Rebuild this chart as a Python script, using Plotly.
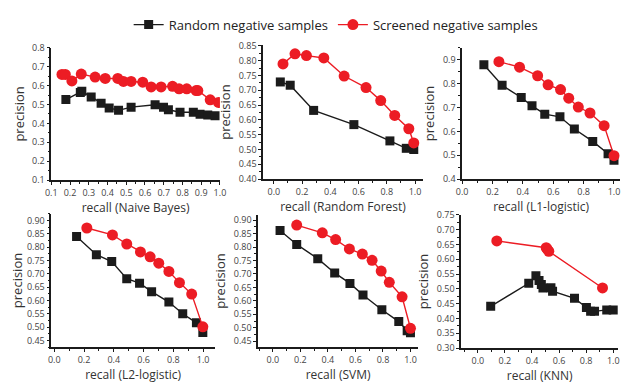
import plotly.graph_objects as go

# ---------------- data ----------------
nb_rand_x = [0.178, 0.255, 0.263, 0.313, 0.366, 0.409, 0.459, 0.526, 0.654, 0.699, 0.725, 0.787, 0.858, 0.894, 0.935, 0.974]
nb_rand_y = [0.526, 0.563, 0.570, 0.540, 0.506, 0.482, 0.469, 0.486, 0.499, 0.486, 0.472, 0.459, 0.459, 0.448, 0.445, 0.440]
nb_scr_x = [0.157, 0.175, 0.210, 0.260, 0.334, 0.388, 0.455, 0.485, 0.526, 0.588, 0.633, 0.686, 0.747, 0.782, 0.823, 0.873, 0.882, 0.948, 0.992]
nb_scr_y = [0.659, 0.659, 0.625, 0.661, 0.645, 0.638, 0.638, 0.622, 0.622, 0.618, 0.593, 0.593, 0.596, 0.583, 0.583, 0.574, 0.574, 0.525, 0.511]

rf_rand_x = [0.046, 0.116, 0.282, 0.567, 0.822, 0.938, 0.991]
rf_rand_y = [0.728, 0.717, 0.632, 0.584, 0.529, 0.504, 0.500]
rf_scr_x = [0.065, 0.150, 0.231, 0.354, 0.498, 0.653, 0.757, 0.856, 0.956, 0.991]
rf_scr_y = [0.789, 0.823, 0.817, 0.809, 0.748, 0.709, 0.665, 0.615, 0.570, 0.522]

l1_rand_x = [0.143, 0.263, 0.389, 0.460, 0.544, 0.644, 0.739, 0.860, 0.961, 1.000]
l1_rand_y = [0.879, 0.793, 0.742, 0.707, 0.672, 0.661, 0.610, 0.558, 0.506, 0.479]
l1_scr_x = [0.242, 0.378, 0.497, 0.566, 0.648, 0.702, 0.765, 0.842, 0.935, 1.000]
l1_scr_y = [0.892, 0.869, 0.833, 0.795, 0.775, 0.739, 0.702, 0.677, 0.624, 0.498]

l2_rand_x = [0.150, 0.283, 0.386, 0.487, 0.573, 0.654, 0.770, 0.863, 0.955, 0.998]
l2_rand_y = [0.840, 0.772, 0.746, 0.682, 0.665, 0.633, 0.594, 0.550, 0.516, 0.480]
l2_scr_x = [0.219, 0.391, 0.487, 0.579, 0.644, 0.702, 0.770, 0.841, 0.923, 0.998]
l2_scr_y = [0.872, 0.846, 0.812, 0.782, 0.764, 0.740, 0.709, 0.667, 0.624, 0.501]

svm_rand_x = [0.052, 0.173, 0.326, 0.449, 0.560, 0.655, 0.792, 0.915, 0.976, 1.000]
svm_rand_y = [0.862, 0.810, 0.757, 0.704, 0.665, 0.622, 0.567, 0.523, 0.489, 0.481]
svm_scr_x = [0.173, 0.359, 0.456, 0.556, 0.650, 0.721, 0.787, 0.846, 0.939, 1.000]
svm_scr_y = [0.882, 0.853, 0.828, 0.793, 0.774, 0.751, 0.711, 0.669, 0.615, 0.498]

knn_rand_x = [0.095, 0.376, 0.429, 0.452, 0.469, 0.481, 0.540, 0.552, 0.714, 0.802, 0.833, 0.862, 0.952, 1.000]
knn_rand_y = [0.441, 0.519, 0.544, 0.528, 0.515, 0.503, 0.504, 0.492, 0.468, 0.437, 0.424, 0.424, 0.429, 0.429]
knn_scr_x = [0.140, 0.505, 0.512, 0.524, 0.921]
knn_scr_y = [0.662, 0.639, 0.634, 0.627, 0.503]

series_names = ["Random negative samples", "Screened negative samples"]
axis_titles = ["recall (Naive Bayes)", "recall (Random Forest)", "recall (L1-logistic)",
               "recall (L2-logistic)", "recall (SVM)", "recall (KNN)"]

# ---------------- layout helpers ----------------
# page body has an 8px margin, so the figure is drawn from (8, 8)
OFF = 8
W, H = 621, 376
BLACK = "#1b1b1b"
RED = "#ec1c24"


def fx(px):
    return (px - OFF) / W


def fy(py):
    return 1 - (py - OFF) / H


panels = [
    # data, x px, y px (top,bottom), xrange, yrange, xdtick, ydtick, yfmt
    ((nb_rand_x, nb_rand_y, nb_scr_x, nb_scr_y), (46, 218), (42, 179), [0.1, 1.0], [0.1, 0.8], 0.1, 0.1, ".1f"),
    ((rf_rand_x, rf_rand_y, rf_scr_x, rf_scr_y), (262, 425), (39, 178), [-0.076, 1.056], [0.40, 0.853], 0.2, 0.05, ".2f"),
    ((l1_rand_x, l1_rand_y, l1_scr_x, l1_scr_y), (465, 626), (42, 178), [0.0, 1.04], [0.4, 0.95], 0.2, 0.1, ".1f"),
    ((l2_rand_x, l2_rand_y, l2_scr_x, l2_scr_y), (46, 213), (214, 352), [-0.02, 1.08], [0.425, 0.925], 0.2, 0.05, ".2f"),
    ((svm_rand_x, svm_rand_y, svm_scr_x, svm_scr_y), (257, 420), (215, 352), [-0.107, 1.055], [0.428, 0.92], 0.2, 0.05, ".2f"),
    ((knn_rand_x, knn_rand_y, knn_scr_x, knn_scr_y), (464, 624), (215, 353), [-0.123, 1.036], [0.30, 0.75], 0.2, 0.05, ".2f"),
]

fig = go.Figure()
layout = {}
for i, (d, xpx, ypx, xr, yr, xdt, ydt, yfmt) in enumerate(panels):
    n = "" if i == 0 else str(i + 1)
    xa, ya = "x" + n, "y" + n
    rx, ry, sx, sy = d
    fig.add_trace(go.Scatter(x=rx, y=ry, xaxis=xa, yaxis=ya, mode="lines+markers",
                             name=series_names[0], legendgroup="r", showlegend=(i == 0),
                             line=dict(color=BLACK, width=1.4),
                             marker=dict(symbol="square", size=9, color=BLACK)))
    fig.add_trace(go.Scatter(x=sx, y=sy, xaxis=xa, yaxis=ya, mode="lines+markers",
                             name=series_names[1], legendgroup="s", showlegend=(i == 0),
                             line=dict(color=RED, width=1.4),
                             marker=dict(symbol="circle", size=11, color=RED)))
    common = dict(showline=True, linecolor=BLACK, linewidth=1.5, showgrid=False, zeroline=False,
                  ticks="outside", ticklen=3, tickwidth=1, tickcolor=BLACK,
                  tickfont=dict(size=9, color="#444"))
    layout["xaxis" + n] = dict(
        common, domain=[fx(xpx[0]), fx(xpx[1])], range=xr, anchor=ya,
        tick0=0, dtick=xdt, tickformat=".1f",
        minor=dict(ticks="outside", ticklen=2, tickcolor=BLACK, dtick=xdt / 2, showgrid=False),
        title=dict(text=axis_titles[i], font=dict(size=12, color="#333"), standoff=0))
    layout["yaxis" + n] = dict(
        common, domain=[fy(ypx[1]), fy(ypx[0])], range=yr, anchor=xa,
        tick0=0, dtick=ydt, tickformat=yfmt,
        minor=dict(ticks="outside", ticklen=2, tickcolor=BLACK, dtick=ydt / 2, showgrid=False),
        title=dict(text="precision", font=dict(size=13, color="#333"), standoff=5))

fig.update_layout(**layout)
fig.update_layout(
    width=W, height=H, margin=dict(l=0, r=0, t=0, b=0),
    paper_bgcolor="white", plot_bgcolor="white",
    font=dict(family="Open Sans, sans-serif", color="#333"),
    legend=dict(orientation="h", x=fx(336), xanchor="center", y=fy(18), yanchor="middle",
                font=dict(size=13, color="#222"), bgcolor="rgba(0,0,0,0)"),
)
fig.write_html("out.html")
